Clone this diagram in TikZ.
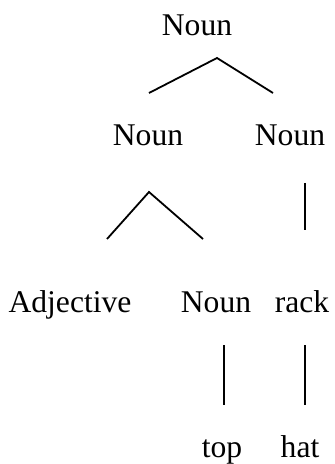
\documentclass[tikz,border=0pt]{standalone}
\usepackage{fontspec}
\setmainfont{Liberation Serif}

\tikzset{
  word/.style={anchor=base, inner sep=0pt, font=\fontsize{15.8}{19}\selectfont},
  branch/.style={line width=0.9pt}
}

\begin{document}
\begin{tikzpicture}[x=0.5pt,y=-0.5pt]
\useasboundingbox (0,0) rectangle (335,464);

% Labels of the tree
\node[word] (root)  at (197,36)  {Noun};
\node[word] (nleft) at (148,146) {Noun};
\node[word] (nright) at (290,146) {Noun};
\node[word] (adj)   at (70,312)  {Adjective};
\node[word] (nlow)  at (216,312) {Noun};
\node[word] (rack)  at (302,312) {rack};
\node[word] (top)   at (222,457) {top};
\node[word] (hat)   at (300,457) {hat};

% Branch points
\coordinate (root-v) at (217,58);
\coordinate (root-l) at (149,93);
\coordinate (root-r) at (273,93);
\coordinate (nleft-v) at (149,192);
\coordinate (nleft-l) at (107,239);
\coordinate (nleft-r) at (203,239);
\coordinate (nright-a) at (305,183);
\coordinate (nright-b) at (305,230);
\coordinate (nlow-a) at (224,345);
\coordinate (nlow-b) at (224,405);
\coordinate (rack-a) at (305,345);
\coordinate (rack-b) at (305,405);

% Draw branches
\draw[branch] (root-l) -- (root-v) -- (root-r);
\draw[branch] (nleft-l) -- (nleft-v) -- (nleft-r);
\draw[branch] (nright-a) -- (nright-b);
\draw[branch] (nlow-a) -- (nlow-b);
\draw[branch] (rack-a) -- (rack-b);
\end{tikzpicture}
\end{document}
